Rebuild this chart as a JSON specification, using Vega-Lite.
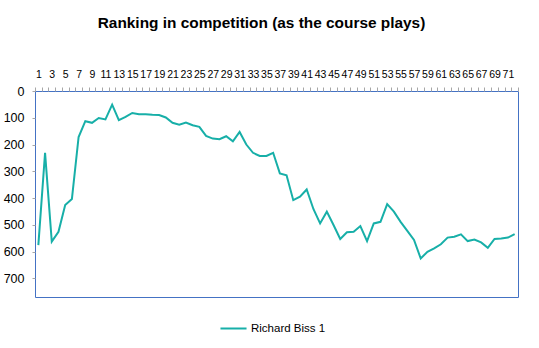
{
  "$schema": "https://vega.github.io/schema/vega-lite/v6.json",
  "autosize": "none",
  "width": 483,
  "height": 206,
  "padding": {"left": 35, "top": 91, "right": 21, "bottom": 51},
  "background": "white",
  "title": {
    "text": "Ranking in competition (as the course plays)",
    "font": "Liberation Sans",
    "fontSize": 15.4,
    "fontWeight": "bold",
    "color": "#000000",
    "anchor": "middle",
    "dx": -15,
    "offset": 38
  },
  "data": {
    "values": [
      {"hole": 1, "rank": 576, "player": "Richard Biss 1"},
      {"hole": 2, "rank": 231, "player": "Richard Biss 1"},
      {"hole": 3, "rank": 563, "player": "Richard Biss 1"},
      {"hole": 4, "rank": 526, "player": "Richard Biss 1"},
      {"hole": 5, "rank": 426, "player": "Richard Biss 1"},
      {"hole": 6, "rank": 404, "player": "Richard Biss 1"},
      {"hole": 7, "rank": 172, "player": "Richard Biss 1"},
      {"hole": 8, "rank": 113, "player": "Richard Biss 1"},
      {"hole": 9, "rank": 119, "player": "Richard Biss 1"},
      {"hole": 10, "rank": 101, "player": "Richard Biss 1"},
      {"hole": 11, "rank": 106, "player": "Richard Biss 1"},
      {"hole": 12, "rank": 51, "player": "Richard Biss 1"},
      {"hole": 13, "rank": 109, "player": "Richard Biss 1"},
      {"hole": 14, "rank": 97, "player": "Richard Biss 1"},
      {"hole": 15, "rank": 82, "player": "Richard Biss 1"},
      {"hole": 16, "rank": 87, "player": "Richard Biss 1"},
      {"hole": 17, "rank": 87, "player": "Richard Biss 1"},
      {"hole": 18, "rank": 89, "player": "Richard Biss 1"},
      {"hole": 19, "rank": 90, "player": "Richard Biss 1"},
      {"hole": 20, "rank": 99, "player": "Richard Biss 1"},
      {"hole": 21, "rank": 119, "player": "Richard Biss 1"},
      {"hole": 22, "rank": 126, "player": "Richard Biss 1"},
      {"hole": 23, "rank": 118, "player": "Richard Biss 1"},
      {"hole": 24, "rank": 128, "player": "Richard Biss 1"},
      {"hole": 25, "rank": 134, "player": "Richard Biss 1"},
      {"hole": 26, "rank": 168, "player": "Richard Biss 1"},
      {"hole": 27, "rank": 178, "player": "Richard Biss 1"},
      {"hole": 28, "rank": 180, "player": "Richard Biss 1"},
      {"hole": 29, "rank": 169, "player": "Richard Biss 1"},
      {"hole": 30, "rank": 188, "player": "Richard Biss 1"},
      {"hole": 31, "rank": 153, "player": "Richard Biss 1"},
      {"hole": 32, "rank": 200, "player": "Richard Biss 1"},
      {"hole": 33, "rank": 231, "player": "Richard Biss 1"},
      {"hole": 34, "rank": 243, "player": "Richard Biss 1"},
      {"hole": 35, "rank": 243, "player": "Richard Biss 1"},
      {"hole": 36, "rank": 231, "player": "Richard Biss 1"},
      {"hole": 37, "rank": 308, "player": "Richard Biss 1"},
      {"hole": 38, "rank": 315, "player": "Richard Biss 1"},
      {"hole": 39, "rank": 408, "player": "Richard Biss 1"},
      {"hole": 40, "rank": 395, "player": "Richard Biss 1"},
      {"hole": 41, "rank": 368, "player": "Richard Biss 1"},
      {"hole": 42, "rank": 441, "player": "Richard Biss 1"},
      {"hole": 43, "rank": 495, "player": "Richard Biss 1"},
      {"hole": 44, "rank": 451, "player": "Richard Biss 1"},
      {"hole": 45, "rank": 501, "player": "Richard Biss 1"},
      {"hole": 46, "rank": 553, "player": "Richard Biss 1"},
      {"hole": 47, "rank": 528, "player": "Richard Biss 1"},
      {"hole": 48, "rank": 526, "player": "Richard Biss 1"},
      {"hole": 49, "rank": 505, "player": "Richard Biss 1"},
      {"hole": 50, "rank": 561, "player": "Richard Biss 1"},
      {"hole": 51, "rank": 495, "player": "Richard Biss 1"},
      {"hole": 52, "rank": 489, "player": "Richard Biss 1"},
      {"hole": 53, "rank": 423, "player": "Richard Biss 1"},
      {"hole": 54, "rank": 451, "player": "Richard Biss 1"},
      {"hole": 55, "rank": 489, "player": "Richard Biss 1"},
      {"hole": 56, "rank": 523, "player": "Richard Biss 1"},
      {"hole": 57, "rank": 557, "player": "Richard Biss 1"},
      {"hole": 58, "rank": 626, "player": "Richard Biss 1"},
      {"hole": 59, "rank": 601, "player": "Richard Biss 1"},
      {"hole": 60, "rank": 588, "player": "Richard Biss 1"},
      {"hole": 61, "rank": 573, "player": "Richard Biss 1"},
      {"hole": 62, "rank": 548, "player": "Richard Biss 1"},
      {"hole": 63, "rank": 545, "player": "Richard Biss 1"},
      {"hole": 64, "rank": 536, "player": "Richard Biss 1"},
      {"hole": 65, "rank": 561, "player": "Richard Biss 1"},
      {"hole": 66, "rank": 555, "player": "Richard Biss 1"},
      {"hole": 67, "rank": 566, "player": "Richard Biss 1"},
      {"hole": 68, "rank": 586, "player": "Richard Biss 1"},
      {"hole": 69, "rank": 553, "player": "Richard Biss 1"},
      {"hole": 70, "rank": 551, "player": "Richard Biss 1"},
      {"hole": 71, "rank": 548, "player": "Richard Biss 1"},
      {"hole": 72, "rank": 535, "player": "Richard Biss 1"}
    ]
  },
  "mark": {"type": "line", "strokeWidth": 2},
  "encoding": {
    "x": {
      "field": "hole",
      "type": "ordinal",
      "bandPosition": 0.5,
      "scale": {"type": "band", "paddingInner": 0, "paddingOuter": 0},
      "axis": {
        "orient": "top",
        "title": null,
        "labelAngle": 0,
        "labelExpr": "datum.value % 2 == 1 ? datum.label : ''",
        "labelOverlap": false,
        "labelFont": "Liberation Sans",
        "labelFontSize": 10.5,
        "labelColor": "#000000",
        "labelPadding": 8,
        "domain": false,
        "tickBand": "extent",
        "tickColor": "#A6A6A6",
        "tickSize": 4
      }
    },
    "y": {
      "field": "rank",
      "type": "quantitative",
      "scale": {"domain": [0, 770], "reverse": true, "nice": false},
      "axis": {
        "title": null,
        "values": [0, 100, 200, 300, 400, 500, 600, 700],
        "grid": false,
        "domain": false,
        "labelFont": "Liberation Sans",
        "labelFontSize": 12.5,
        "labelColor": "#000000",
        "labelPadding": 8,
        "tickColor": "#A6A6A6",
        "tickSize": 3
      }
    },
    "color": {
      "field": "player",
      "type": "nominal",
      "scale": {"range": ["#17AFA8"]},
      "legend": {
        "title": null,
        "orient": "none",
        "legendX": 184,
        "legendY": 223,
        "padding": 0,
        "symbolType": "stroke",
        "symbolSize": 680,
        "symbolStrokeWidth": 2,
        "labelFont": "Liberation Sans",
        "labelFontSize": 11.5,
        "labelColor": "#000000",
        "labelOffset": 3
      }
    }
  },
  "config": {
    "view": {"stroke": "#4472C4", "strokeWidth": 1}
  }
}
